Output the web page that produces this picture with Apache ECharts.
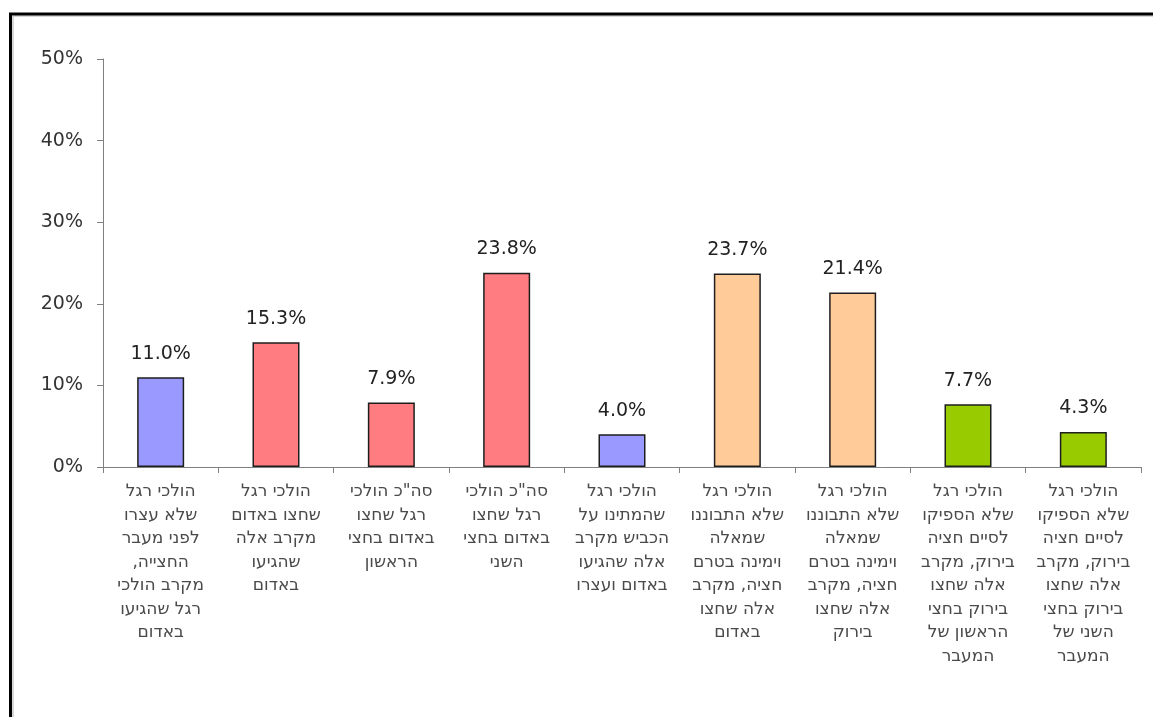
<!DOCTYPE html>
<html>
<head>
<meta charset="utf-8">
<script src="https://cdn.jsdelivr.net/npm/echarts@6/dist/echarts.min.js"></script>
<style>
html,body{margin:0;padding:0;background:#fff;}
#c{width:1153px;height:717px;}
</style>
</head>
<body>
<div id="c"></div>
<script>
const categories = [
  "הולכי רגל\nשלא עצרו\nלפני מעבר\nהחצייה,\u200F\nמקרב הולכי\nרגל שהגיעו\nבאדום",
  "הולכי רגל\nשחצו באדום\nמקרב אלה\nשהגיעו\nבאדום",
  "סה\"כ הולכי\nרגל שחצו\nבאדום בחצי\nהראשון",
  "סה\"כ הולכי\nרגל שחצו\nבאדום בחצי\nהשני",
  "הולכי רגל\nשהמתינו על\nהכביש מקרב\nאלה שהגיעו\nבאדום ועצרו",
  "הולכי רגל\nשלא התבוננו\nשמאלה\nוימינה בטרם\nחציה, מקרב\nאלה שחצו\nבאדום",
  "הולכי רגל\nשלא התבוננו\nשמאלה\nוימינה בטרם\nחציה, מקרב\nאלה שחצו\nבירוק",
  "הולכי רגל\nשלא הספיקו\nלסיים חציה\nבירוק, מקרב\nאלה שחצו\nבירוק בחצי\nהראשון של\nהמעבר",
  "הולכי רגל\nשלא הספיקו\nלסיים חציה\nבירוק, מקרב\nאלה שחצו\nבירוק בחצי\nהשני של\nהמעבר"
];
const values = [11.0, 15.3, 7.9, 23.8, 4.0, 23.7, 21.4, 7.7, 4.3];
const barColors = ["#9999FF", "#FF7C80", "#FF7C80", "#FF7C80", "#9999FF", "#FFCC99", "#FFCC99", "#99CC00", "#99CC00"];
const yTicks = [0, 10, 20, 30, 40, 50];

const chart = echarts.init(document.getElementById('c'), null, {renderer: 'canvas'});
const font = '"DejaVu Sans", "Liberation Sans", Arial, sans-serif';
chart.setOption({
  backgroundColor: '#ffffff',
  animation: false,
  textStyle: {fontFamily: font},
  graphic: [
    {type: 'rect', shape: {x: 13, y: 16, width: 1200, height: 800}, style: {fill: 'none', stroke: '#b0b0b0', lineWidth: 1}, silent: true},
    {type: 'rect', shape: {x: 10.5, y: 14, width: 1200, height: 800}, style: {fill: 'none', stroke: '#000', lineWidth: 3}, silent: true}
  ],
  grid: {left: 103, right: 12, top: 59, bottom: 250, containLabel: false},
  xAxis: {
    type: 'category',
    data: categories,
    boundaryGap: true,
    axisLine: {show: true, lineStyle: {color: '#808080', width: 1}},
    axisTick: {show: true, inside: false, length: 6, alignWithLabel: false, lineStyle: {color: '#808080'}},
    axisLabel: {interval: 0, margin: 13, fontSize: 17, lineHeight: 23.5, color: '#4a4a4a', fontFamily: font, align: 'center'}
  },
  yAxis: {
    type: 'value',
    min: yTicks[0],
    max: yTicks[yTicks.length - 1],
    interval: 10,
    splitLine: {show: false},
    axisLine: {show: true, lineStyle: {color: '#808080', width: 1}},
    axisTick: {show: true, inside: false, length: 6, lineStyle: {color: '#808080'}},
    axisLabel: {formatter: '{value}%', fontSize: 19, color: '#333', margin: 20, fontFamily: font}
  },
  series: [{
    type: 'bar',
    data: values.map((v, i) => ({value: v, itemStyle: {color: barColors[i]}})),
    barWidth: 47,
    itemStyle: {borderColor: '#1e1e1e', borderWidth: 1.5},
    label: {
      show: true, position: 'top', distance: 14,
      formatter: p => p.value.toFixed(1) + '%',
      fontSize: 19, color: '#222', fontFamily: font
    }
  }]
});
</script>
</body>
</html>
